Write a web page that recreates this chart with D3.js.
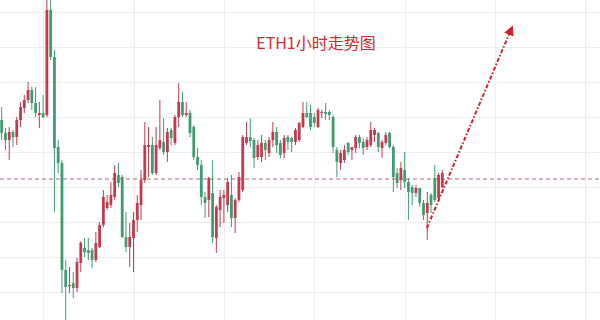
<!DOCTYPE html>
<html>
<head>
<meta charset="utf-8">
<script src="https://cdn.jsdelivr.net/npm/d3@7"></script>
<style>
  html, body { margin: 0; padding: 0; background: #fff; }
  svg { display: block; }
</style>
</head>
<body>
<div id="chart"></div>
<script>
// ETH hourly candles: open, high, low, close
const opens = [1852,1846.8,1844,1847.2,1845.2,1852,1856.8,1860,1864,1858.8,1854,1854.8,1854,1896,1877.2,1841.2,1834.8,1792,1785.6,1786.8,1784.8,1794.8,1800.8,1800,1800,1796,1801.2,1810,1816.8,1818,1821.2,1830,1829.2,1805.2,1801.2,1804.8,1812,1818,1828,1841.2,1842,1830.8,1840.8,1843.2,1839.2,1848,1842.8,1853.2,1859.2,1854,1854.8,1849.2,1837.2,1834,1821.2,1820,1822.8,1804.8,1816,1820.8,1818,1822,1812.8,1820,1824,1842.8,1845.2,1844,1837.2,1837.2,1842.8,1838.8,1844,1847.2,1842.8,1838.8,1845.2,1844.8,1843.2,1844,1849.2,1854.8,1854.8,1853.2,1849.2,1854.8,1855.2,1855.2,1853.2,1840,1834.8,1836,1842.8,1840,1840.8,1845.2,1843.2,1841.2,1842,1846,1846.8,1840.8,1842.8,1846.8,1841.2,1830.8,1828,1832,1827.2,1825.2,1822.8,1824.8,1818.8,1814.8,1822,1828.8,1820.8,1825.2];
const highs = [1857.2,1848.8,1849.2,1848,1853.2,1859.2,1862,1867.2,1865.2,1865.2,1859.2,1862,1902,1900,1880,1844,1836,1796,1793.2,1791.2,1796.8,1803.6,1804.8,1804.8,1800.8,1807.2,1811.2,1824,1822,1827.2,1834,1834.8,1830,1815.2,1810.8,1815.2,1822,1832,1851.2,1849.2,1845.2,1849.2,1860,1852.8,1848.8,1848.8,1854,1866.8,1863.2,1859.2,1856,1850,1840.8,1836,1823.2,1829.2,1836,1818,1824,1824,1828.8,1830,1820.8,1831.2,1846,1851.2,1852.8,1844.8,1844,1846,1844,1845.2,1851.2,1849.2,1844,1846,1846,1845.2,1848.8,1851.2,1859.2,1859.2,1858,1854.8,1856.8,1856,1858.8,1856,1854,1841.2,1840,1842,1843.2,1841.2,1846,1846,1844.8,1845.2,1851.2,1848.8,1847.2,1844,1847.2,1847.2,1842,1832.8,1835.2,1839.2,1828.8,1826,1826,1824.8,1820,1823.2,1822.8,1834,1830.8,1832];
const lows = [1844,1840,1836,1841.2,1842,1849.2,1854.8,1858.8,1856,1853.2,1848.8,1852.8,1853.2,1876,1815.2,1830.8,1782.8,1772,1782.8,1780.8,1783.2,1791.2,1797.2,1796,1792.8,1795.2,1800.8,1809.2,1816,1816.8,1820,1825.2,1804.8,1799.2,1793.2,1791.2,1807.2,1812,1826.8,1829.2,1830,1830,1840,1838,1835.2,1842,1842,1849.2,1853.2,1853.2,1845.2,1836,1832,1818,1812.8,1813.2,1802.8,1798.8,1809.2,1810.8,1815.2,1809.2,1806.8,1819.2,1823.2,1842,1841.2,1832.8,1836,1835.2,1836,1837.2,1841.2,1838.8,1836.8,1836.8,1840,1839.2,1842,1843.2,1848.8,1852.8,1848,1849.2,1848.8,1852.8,1852,1852,1838.8,1829.2,1832,1834.8,1838,1836,1838.8,1840.8,1838,1840,1841.2,1843.2,1839.2,1836.8,1842,1840.8,1823.2,1824.8,1824,1824.8,1812,1818,1821.2,1817.2,1812,1804,1814.8,1819.2,1820,1824.8];
const closes = [1846.8,1844,1847.2,1845.2,1852,1857.2,1860,1864,1858.8,1854.8,1854.8,1853.2,1896,1877.2,1840.8,1834.8,1792,1785.2,1786,1784.8,1795.2,1802.8,1799.2,1798.8,1796,1802.8,1810,1821.2,1819.2,1822,1830.8,1826.8,1805.2,1801.2,1805.2,1812,1818.8,1828,1842,1842,1830.8,1842,1844,1839.2,1847.2,1844.8,1853.2,1859.2,1854,1854.8,1846.8,1837.2,1834,1821.2,1818.8,1828.8,1805.2,1817.2,1821.2,1822,1827.2,1812.8,1820,1829.2,1845.2,1845.2,1843.6,1836.8,1842,1842.8,1840,1844,1847.2,1842,1838,1844.8,1843.2,1843.2,1848,1850.8,1854.8,1853.2,1849.2,1850.8,1856,1855.2,1854.4,1854,1841.2,1835.2,1838.8,1840,1839.2,1841.2,1845.2,1842.8,1840.8,1844,1848,1848,1841.2,1843.2,1846,1841.2,1829.2,1826.8,1832.8,1827.2,1823.2,1822.8,1824.8,1818.8,1814,1818.8,1818,1820,1830,1830.8];

// reference price (dashed) and grid levels
const refPrice = 1828.4;
const priceGrid = [1895.2,1881.2,1867.2,1853.2,1839.2,1825.2,1811.2,1797.2,1783.2];
const dayTicks = [11,35,59,83,107,131,155];

// projected move: [candle index, price]
const trendFrom = [112.9, 1808.8];
const trendTo = [135.2, 1888];

const title = "ETH1小时走势图";

const W = 600, H = 320;
const UP = "#c23a4e", DOWN = "#3f9c70";

const candles = opens.map((o, i) => ({ i, o, h: highs[i], l: lows[i], c: closes[i] }));

const x = d3.scaleLinear().domain([-0.45, 158.87]).range([0, W]);
const y = d3.scaleLinear().domain([1772, 1900]).range([320, 0]);
const step = x(1) - x(0);
const bw = step * 0.74;

const svg = d3.select("#chart").append("svg")
  .attr("width", W).attr("height", H)
  .attr("viewBox", `0 0 ${W} ${H}`);

svg.append("rect").attr("width", W).attr("height", H).attr("fill", "#fff");

// grid
const grid = svg.append("g").attr("stroke", "#ededed").attr("stroke-width", 1);
grid.selectAll("line.h").data(priceGrid).join("line")
  .attr("class", "h")
  .attr("x1", 0).attr("x2", W)
  .attr("y1", d => Math.round(y(d)) + 0.5).attr("y2", d => Math.round(y(d)) + 0.5);
grid.selectAll("line.v").data(dayTicks).join("line")
  .attr("class", "v")
  .attr("y1", 0).attr("y2", H)
  .attr("x1", d => Math.round(x(d)) + 0.5).attr("x2", d => Math.round(x(d)) + 0.5);

// reference price line
svg.append("line")
  .attr("x1", 0).attr("x2", W)
  .attr("y1", y(refPrice)).attr("y2", y(refPrice))
  .attr("stroke", "#b26a6e").attr("stroke-width", 1)
  .attr("stroke-dasharray", "4,3");

// candles
const g = svg.append("g");
const cg = g.selectAll("g.candle").data(candles).join("g").attr("class", "candle");
cg.append("line")
  .attr("x1", d => x(d.i)).attr("x2", d => x(d.i))
  .attr("y1", d => y(d.h)).attr("y2", d => y(d.l))
  .attr("stroke", d => d.c >= d.o ? UP : DOWN)
  .attr("stroke-width", 1);
cg.append("rect")
  .attr("x", d => x(d.i) - bw / 2)
  .attr("width", bw)
  .attr("y", d => y(Math.max(d.o, d.c)))
  .attr("height", d => Math.max(1, Math.abs(y(d.o) - y(d.c))))
  .attr("fill", d => d.c >= d.o ? UP : DOWN);

// projection arrow
const defs = svg.append("defs");
defs.append("marker")
  .attr("id", "head")
  .attr("viewBox", "0 0 10 10")
  .attr("refX", 5).attr("refY", 5)
  .attr("markerWidth", 5).attr("markerHeight", 5)
  .attr("orient", "auto")
  .append("path")
  .attr("d", "M0,0 L10,5 L0,10 Z")
  .attr("fill", "#d0202e");

svg.append("line")
  .attr("x1", x(trendFrom[0])).attr("y1", y(trendFrom[1]))
  .attr("x2", x(trendTo[0])).attr("y2", y(trendTo[1]))
  .attr("stroke", "#cf1f2f").attr("stroke-width", 2)
  .attr("stroke-dasharray", "4,2,1.5,2")
  .attr("marker-end", "url(#head)");

// title
svg.append("text")
  .attr("x", 316).attr("y", 49)
  .attr("text-anchor", "middle")
  .attr("font-family", "'Noto Sans CJK SC', 'Noto Sans', sans-serif")
  .attr("font-size", 16)
  .attr("fill", "#d2282e")
  .text(title);
</script>
</body>
</html>
